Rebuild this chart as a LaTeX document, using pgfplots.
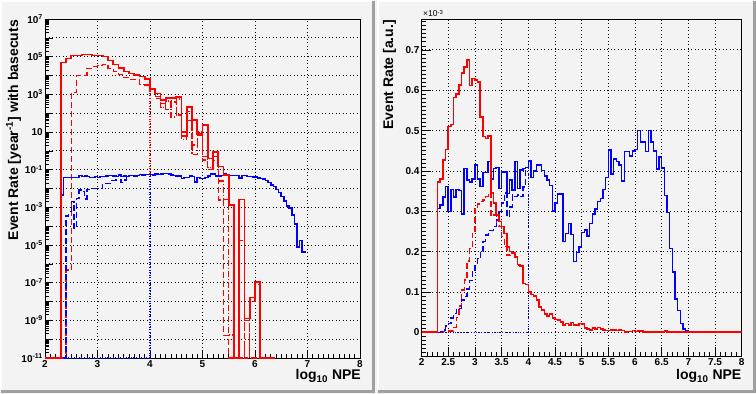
\documentclass[border=0pt]{standalone}
\usepackage{pgfplots}
\pgfplotsset{compat=1.18}
\usepackage{fontspec}
\setmainfont{Liberation Sans}
\definecolor{bg}{RGB}{243,243,243}
\definecolor{padshadow}{RGB}{160,160,160}
\definecolor{rred}{RGB}{255,0,0}
\definecolor{rblue}{RGB}{0,0,255}
\pgfplotsset{rootaxis/.style={
  scale only axis, anchor=south west,
  axis line style={black, line width=0.8pt},
  tick align=inside, tick pos=left,
  every tick/.style={black, line width=0.6pt},
  grid=major,
  major grid style={black, line width=0.8pt, dash pattern=on 0.9pt off 2.6pt},
  tick label style={font=\bfseries\fontsize{10}{12}\selectfont},
  /pgf/number format/assume math mode=true,
  xticklabel style={inner sep=1pt, yshift=-1pt},
  yticklabel style={inner sep=2pt},
  xmin=2, xmax=8,
  solidl/.style={line width=1.6pt, const plot},
  dashl/.style={line width=1.4pt, const plot, dash pattern=on 6pt off 3pt},
  dotl/.style={line width=1.3pt, const plot, dash pattern=on 1pt off 1.6pt},
  dashdotl/.style={line width=1.3pt, const plot, dash pattern=on 6pt off 2pt on 1.2pt off 2pt},
}}
\begin{document}
\begin{tikzpicture}
\useasboundingbox (0,0) rectangle (756pt,394pt);
\fill[bg] (0,0) rectangle (756pt,394pt);
% pad borders
\draw[white, line width=2pt] (1pt,4pt) -- (1pt,393pt) -- (372pt,393pt);
\draw[padshadow, line width=3pt] (1pt,2.5pt) -- (373pt,2.5pt) -- (373pt,393pt);
\draw[white, line width=2pt] (378pt,4pt) -- (378pt,393pt) -- (753pt,393pt);
\draw[padshadow, line width=3pt] (378pt,2.5pt) -- (754.5pt,2.5pt) -- (754.5pt,393pt);

% ================= LEFT PANEL =================
\begin{axis}[rootaxis,
  at={(45pt,36pt)}, width=315pt, height=339pt,
  ymode=log, ymin=1e-11, ymax=1e7,
  xtick={2,3,4,5,6,7,8}, minor x tick num=9,
  ytickten={-11,-10,-9,-8,-7,-6,-5,-4,-3,-2,-1,0,1,2,3,4,5,6,7},
  yticklabels={10\textsuperscript{-11},,10\textsuperscript{-9},,10\textsuperscript{-7},,10\textsuperscript{-5},,10\textsuperscript{-3},,10\textsuperscript{-1},,10,,10\textsuperscript{3},,10\textsuperscript{5},,10\textsuperscript{7}},
  major tick length=8pt, minor tick length=4pt,
]
% red dashed
\addplot[rred, dashl] coordinates {(2.3,1e-11)(2.4,4.7e-7)(2.5,1.26e3)(2.6,1.0e4)(2.7,1.0e4)(2.8,2.4e4)(2.9,2.95e4)(3.0,3.4e4)(3.1,3.9e4)(3.2,2.4e4)(3.3,1.6e4)(3.4,1.15e4)(3.5,7.6e3)(3.6,6.3e3)(3.7,6.3e3)(3.8,3.4e3)(3.9,3.2e3)(4.0,1.38e3)(4.1,6.2e2)(4.2,3.2e2)(4.3,1.6e2)(4.4,4.0e2)(4.5,79)(4.6,10)(4.7,40)(4.8,2.0)(4.9,6.3)(5.0,0.32)(5.1,0.1)(5.2,0.5)(5.3,2.5e-3)(5.4,1.6e-10)(5.5,1e-11)(5.8,1e-9)(5.9,1e-11)(6.4,1e-11)};
% red dash-dot
\addplot[rred, dashdotl] coordinates {(4.1,7.9e2)(4.2,2.0e2)(4.3,4.5e2)(4.4,63)(4.5,5.6e2)(4.6,4.0)(4.7,1.26e2)(4.8,0.63)(4.9,10)(5.0,0.5)(5.1,0.126)(5.2,0.32)(5.3,0.025)(5.4,2.5e-3)(5.5,1.66e-10)(5.6,1e-11)(5.7,1.8e-5)(5.8,1e-11)(5.9,1e-8)(6.0,8e-8)(6.1,1e-11)(6.2,1e-11)};
% red dotted
\addplot[rred, dotl] coordinates {(2.0,1e-11)(4.0,1.86e3)(4.1,1.12e3)};
% blue dashed
\addplot[rblue, dashl] coordinates {(2.0,1e-11)(2.40,3.5e-4)(2.45,5.9e-4)(2.50,2.0e-3)(2.55,7.6e-5)(2.60,3.0e-3)(2.65,8.3e-3)(2.70,7.1e-3)(2.75,2.8e-3)(2.80,8.9e-3)(2.85,1.02e-2)(2.90,1.02e-2)(2.95,1.02e-2)(3.00,1.02e-2)(3.05,1.02e-2)(3.10,1.86e-2)(3.15,1.86e-2)(3.20,1.86e-2)(3.25,2.63e-2)(3.30,2.63e-2)(3.35,2.82e-2)(3.40,2.82e-2)(3.45,2.14e-2)(3.50,2.82e-2)(3.55,4.27e-2)};
% blue dotted
\addplot[rblue, dotl] coordinates {(2.0,1e-11)(4.0,5.62e-2)(4.05,5.25e-2)};
% blue solid
\addplot[rblue, solidl] coordinates {(2.00,1e-11)(2.30,4.47e-3)(2.35,3.89e-2)(2.40,3.89e-2)(2.45,3.89e-2)(2.50,3.89e-2)(2.55,3.89e-2)(2.60,3.89e-2)(2.65,5.0e-2)(2.70,4.27e-2)(2.75,4.57e-2)(2.80,4.27e-2)(2.85,3.89e-2)(2.90,3.89e-2)(2.95,4.27e-2)(3.00,3.89e-2)(3.05,4.27e-2)(3.10,4.27e-2)(3.15,4.57e-2)(3.20,5.0e-2)(3.25,5.0e-2)(3.30,4.57e-2)(3.35,4.27e-2)(3.40,5.25e-2)(3.45,4.27e-2)(3.50,4.57e-2)(3.55,4.27e-2)(3.60,5.0e-2)(3.65,5.0e-2)(3.70,4.57e-2)(3.75,5.0e-2)(3.80,5.62e-2)(3.85,5.25e-2)(3.90,5.62e-2)(3.95,5.62e-2)(4.00,5.62e-2)(4.05,5.25e-2)(4.10,5.89e-2)(4.15,5.62e-2)(4.20,5.89e-2)(4.25,6.31e-2)(4.30,6.31e-2)(4.35,5.89e-2)(4.40,5.25e-2)(4.45,5.0e-2)(4.50,4.57e-2)(4.55,4.57e-2)(4.60,3.47e-2)(4.65,3.89e-2)(4.70,3.89e-2)(4.75,4.57e-2)(4.80,4.27e-2)(4.85,2.14e-2)(4.90,3.89e-2)(4.95,3.47e-2)(5.00,3.47e-2)(5.05,3.89e-2)(5.10,4.57e-2)(5.15,5.89e-2)(5.20,5.89e-2)(5.25,4.57e-2)(5.30,4.57e-2)(5.35,5.0e-2)(5.40,5.89e-2)(5.45,5.0e-2)(5.50,5.0e-2)(5.55,5.0e-2)(5.60,5.0e-2)(5.65,5.0e-2)(5.70,3.63e-2)(5.75,4.79e-2)(5.80,4.79e-2)(5.85,4.27e-2)(5.90,4.27e-2)(5.95,3.98e-2)(6.00,3.98e-2)(6.05,3.63e-2)(6.10,3.47e-2)(6.15,3.09e-2)(6.20,2.63e-2)(6.25,2.04e-2)(6.30,1.51e-2)(6.35,1.26e-2)(6.40,8.9e-3)(6.45,6.0e-3)(6.50,3.7e-3)(6.55,2.24e-3)(6.60,1.17e-3)(6.65,8.9e-4)(6.70,3.9e-4)(6.75,1.35e-4)(6.80,7.6e-6)(6.85,1.7e-5)(6.90,4.3e-6)(6.97,4.3e-6)};
% red solid
\addplot[rred, solidl] coordinates {(2.0,1e-11)(2.3,5.0e4)(2.4,8.1e4)(2.5,1.17e5)(2.6,1.17e5)(2.7,1.32e5)(2.8,1.32e5)(2.9,1.17e5)(3.0,1.17e5)(3.1,1.0e5)(3.2,6.2e4)(3.3,3.9e4)(3.4,2.5e4)(3.5,1.6e4)(3.6,1.26e4)(3.7,1.1e4)(3.8,8.7e3)(3.9,6.3e3)(4.0,1.86e3)(4.1,1.12e3)(4.2,5.0e2)(4.3,6.3e2)(4.4,6.3e2)(4.5,7.1e2)(4.6,6.2)(4.7,2.2e2)(4.8,44)(4.9,7.6)(5.0,23)(5.1,0.40)(5.2,0.89)(5.3,0.145)(5.4,0.052)(5.5,1.3e-3)(5.6,1e-11)(5.7,2.6e-3)(5.8,1.26e-9)(5.9,1.66e-8)(6.0,1.07e-7)(6.1,1e-11)(6.3,1e-11)};
\end{axis}

% ================= RIGHT PANEL =================
\begin{axis}[rootaxis,
  at={(421.6pt,37.3pt)}, width=320.1pt, height=337.7pt,
  ymin=-0.0605, ymax=0.7765,
  xtick={2,2.5,3,3.5,4,4.5,5,5.5,6,6.5,7,7.5,8}, minor x tick num=4,
  ytick={0,0.1,0.2,0.3,0.4,0.5,0.6,0.7},
  minor ytick={-0.06,-0.05,...,0.77},
  scaled y ticks=false, scaled x ticks=false,
  major tick length=9.5pt, minor tick length=4.5pt,
]
% red dashed
\addplot[rred, dashl] coordinates {(2.35,0)(2.4,0.002)(2.45,0.003)(2.5,0.003)(2.55,0.003)(2.6,0.012)(2.65,0.037)(2.7,0.065)(2.75,0.105)(2.8,0.130)(2.85,0.177)(2.9,0.208)(2.95,0.245)(3.0,0.307)(3.05,0.318)(3.1,0.324)(3.15,0.328)(3.2,0.336)(3.25,0.345)(3.3,0.287)(3.35,0.291)(3.4,0.263)(3.45,0.262)(3.5,0.237)(3.55,0.212)(3.6,0.192)(3.65,0.190)(3.7,0.196)(3.75,0.192)(3.8,0.167)(3.85,0.165)(3.9,0.121)};
% blue dashed
\addplot[rblue, dashl] coordinates {(2.30,0)(2.35,0.002)(2.40,0.006)(2.45,0.016)(2.50,0.022)(2.55,0.035)(2.60,0.047)(2.65,0.059)(2.70,0.059)(2.75,0.080)(2.80,0.088)(2.85,0.107)(2.90,0.128)(2.95,0.150)(3.00,0.164)(3.05,0.183)(3.10,0.200)(3.15,0.225)(3.20,0.241)(3.25,0.253)(3.30,0.253)(3.35,0.262)(3.40,0.278)(3.45,0.299)(3.50,0.320)(3.55,0.345)(3.60,0.288)(3.65,0.311)(3.70,0.340)(3.75,0.336)(3.80,0.340)(3.85,0.336)(3.90,0.360)(3.95,0.408)};
% red dotted
\addplot[rred, dotl] coordinates {(2.0,0)(4.0,0.100)(4.05,0.094)};
% blue dotted
\addplot[rblue, dotl] coordinates {(2.0,0)(4.0,0.425)(4.05,0.384)};
% blue solid
\addplot[rblue, solidl] coordinates {(2.00,0)(2.30,0.307)(2.35,0.315)(2.40,0.336)(2.45,0.361)(2.50,0.299)(2.55,0.354)(2.60,0.336)(2.65,0.354)(2.70,0.351)(2.75,0.293)(2.80,0.406)(2.85,0.377)(2.90,0.373)(2.95,0.380)(3.00,0.415)(3.05,0.380)(3.10,0.361)(3.15,0.396)(3.20,0.396)(3.25,0.423)(3.30,0.380)(3.35,0.406)(3.40,0.408)(3.45,0.356)(3.50,0.398)(3.55,0.398)(3.60,0.344)(3.65,0.377)(3.70,0.352)(3.75,0.423)(3.80,0.356)(3.85,0.402)(3.90,0.406)(3.95,0.408)(4.00,0.425)(4.05,0.384)(4.10,0.400)(4.15,0.415)(4.20,0.415)(4.25,0.401)(4.30,0.387)(4.35,0.377)(4.40,0.364)(4.45,0.301)(4.50,0.321)(4.55,0.343)(4.60,0.343)(4.65,0.225)(4.70,0.245)(4.75,0.270)(4.80,0.242)(4.85,0.175)(4.90,0.198)(4.95,0.212)(5.00,0.247)(5.05,0.253)(5.10,0.239)(5.15,0.270)(5.20,0.293)(5.25,0.305)(5.30,0.324)(5.35,0.332)(5.40,0.354)(5.45,0.384)(5.50,0.452)(5.55,0.392)(5.60,0.429)(5.65,0.423)(5.70,0.415)(5.75,0.375)(5.80,0.448)(5.85,0.448)(5.90,0.437)(5.95,0.450)(6.00,0.453)(6.05,0.500)(6.10,0.471)(6.15,0.471)(6.20,0.448)(6.25,0.500)(6.30,0.471)(6.35,0.450)(6.40,0.405)(6.45,0.434)(6.50,0.407)(6.55,0.339)(6.60,0.297)(6.65,0.208)(6.70,0.150)(6.75,0.082)(6.80,0.054)(6.85,0.022)(6.90,0.008)(6.95,0.004)(7.00,0.002)(7.05,0)(8.0,0)};
% red solid
\addplot[rred, solidl] coordinates {(2.0,0)(2.3,0.373)(2.35,0.380)(2.4,0.427)(2.45,0.453)(2.5,0.510)(2.55,0.515)(2.6,0.582)(2.65,0.591)(2.7,0.613)(2.75,0.643)(2.8,0.657)(2.85,0.675)(2.9,0.612)(2.95,0.629)(3.0,0.626)(3.05,0.621)(3.1,0.533)(3.15,0.485)(3.2,0.480)(3.25,0.486)(3.3,0.345)(3.35,0.320)(3.4,0.290)(3.45,0.275)(3.5,0.262)(3.55,0.245)(3.6,0.212)(3.65,0.200)(3.7,0.196)(3.75,0.186)(3.8,0.168)(3.85,0.165)(3.9,0.121)(3.95,0.118)(4.0,0.100)(4.05,0.094)(4.1,0.090)(4.15,0.080)(4.2,0.063)(4.25,0.055)(4.3,0.045)(4.35,0.040)(4.4,0.045)(4.45,0.035)(4.5,0.032)(4.55,0.030)(4.6,0.026)(4.65,0.018)(4.7,0.022)(4.75,0.018)(4.8,0.024)(4.85,0.018)(4.9,0.018)(4.95,0.022)(5.0,0.020)(5.05,0.011)(5.1,0.008)(5.15,0.006)(5.2,0.011)(5.25,0.008)(5.3,0.012)(5.35,0.008)(5.4,0.006)(5.45,0.004)(5.5,0.004)(5.55,0.006)(5.6,0.006)(5.65,0.004)(5.7,0.006)(5.75,0.004)(5.8,0)(5.85,0.002)(5.9,0.002)(5.95,0.004)(6.0,0.002)(6.05,0.003)(6.1,0.003)(6.15,0)(6.55,0.003)(6.6,0)(8.0,0)};
\end{axis}

% titles
\node[rotate=90, anchor=east, inner sep=0, font=\bfseries\fontsize{14}{16}\selectfont] at (13.5pt,374pt) {Event Rate [year\textsuperscript{-1}] with basecuts};
\node[rotate=90, anchor=east, inner sep=0, font=\bfseries\fontsize{14}{16}\selectfont] at (389.5pt,374pt) {Event Rate [a.u.]};
\node[anchor=north east, inner sep=0, font=\bfseries\fontsize{14}{16}\selectfont] at (361pt,24.5pt) {log\textsubscript{10} NPE};
\node[anchor=north east, inner sep=0, font=\bfseries\fontsize{14}{16}\selectfont] at (741.5pt,24.5pt) {log\textsubscript{10} NPE};
\node[anchor=base west, inner sep=0, font=\fontsize{8.5}{10}\selectfont] at (423pt,377pt) {×10\textsuperscript{-3}};
\end{tikzpicture}
\end{document}
